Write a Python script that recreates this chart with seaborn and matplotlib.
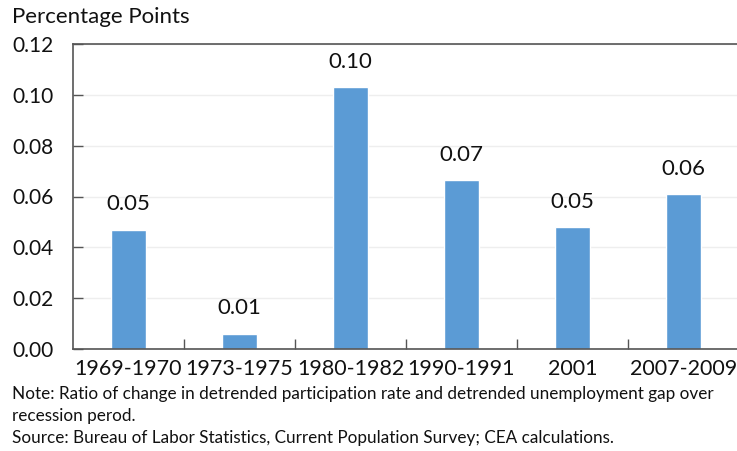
import matplotlib
matplotlib.use("Agg")
import matplotlib.pyplot as plt
import seaborn as sns
import pandas as pd
from matplotlib.ticker import MultipleLocator, FixedLocator

# Data
periods = ['1969-1970', '1973-1975', '1980-1982', '1990-1991', '2001', '2007-2009']
ratio = [0.047, 0.006, 0.103, 0.0665, 0.048, 0.061]
labels = ['0.05', '0.01', '0.10', '0.07', '0.05', '0.06']

df = pd.DataFrame({'period': periods, 'ratio': ratio})

sns.set_style("white")
plt.rcParams['font.family'] = ['Lato', 'DejaVu Sans']
plt.rcParams['text.color'] = '#111111'

fig = plt.figure(figsize=(7.37, 4.51), dpi=100)
ax = fig.add_axes([73/737, 1 - 349/451, 666/737, 305/451])

sns.barplot(data=df, x='period', y='ratio', color='#5B9BD5', width=0.32,
            saturation=1, ax=ax)

# value labels above bars
for i, (v, t) in enumerate(zip(ratio, labels)):
    ax.text(i, v + 0.006, t, ha='center', va='bottom', fontsize=16)

ax.set_ylim(0, 0.12)
ax.set_xlim(-0.5, 5.5)
ax.yaxis.set_major_locator(MultipleLocator(0.02))
ax.yaxis.set_major_formatter(matplotlib.ticker.FormatStrFormatter('%.2f'))
ax.grid(axis='y', color='#eeeeee', linewidth=1)
ax.set_axisbelow(True)

ax.set_xlabel('')
ax.set_ylabel('')
ax.tick_params(axis='y', direction='in', length=7, width=1, color='#555555',
               labelsize=15, labelcolor='#111111', pad=14, left=True)
ax.tick_params(axis='x', length=0, labelsize=15.5, labelcolor='#111111', pad=7)
ax.xaxis.set_minor_locator(FixedLocator([0.5, 1.5, 2.5, 3.5, 4.5]))
ax.tick_params(axis='x', which='minor', direction='in', length=7, width=1,
               color='#555555', bottom=True)

for s in ['left', 'bottom', 'top']:
    ax.spines[s].set_color('#555555')
    ax.spines[s].set_linewidth(1.2)
ax.spines['right'].set_visible(False)

fig.text(12/737, 1 - 17/451, 'Percentage Points', fontsize=16, va='center', ha='left')
fig.text(12/737, 1 - 394/451,
         'Note: Ratio of change in detrended participation rate and detrended unemployment gap over',
         fontsize=12.3, va='center', ha='left')
fig.text(12/737, 1 - 416/451, 'recession perod.', fontsize=12.3, va='center', ha='left')
fig.text(12/737, 1 - 438/451,
         'Source: Bureau of Labor Statistics, Current Population Survey; CEA calculations.',
         fontsize=12.3, va='center', ha='left')

fig.savefig('out.png', dpi=100)
